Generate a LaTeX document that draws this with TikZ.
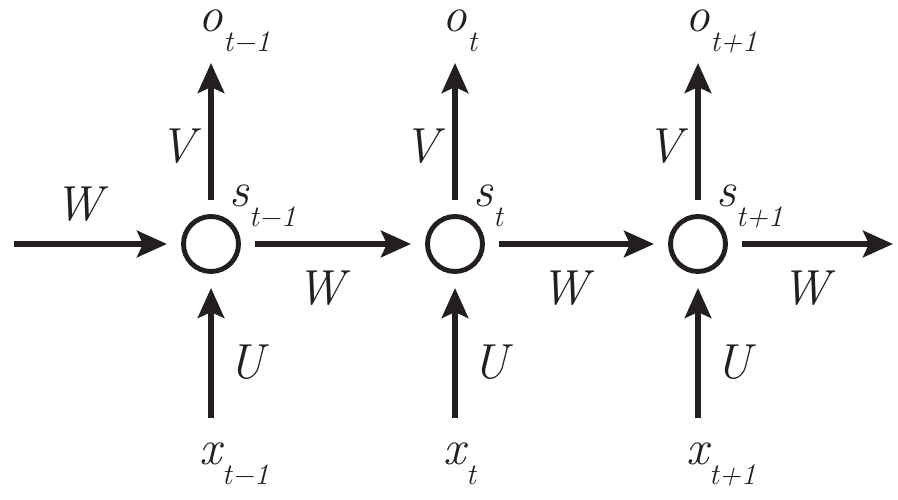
\documentclass[tikz,border=0pt]{standalone}
\usepackage{fontspec}
\usetikzlibrary{arrows.meta}
\definecolor{ink}{HTML}{231F20}
\newcommand{\sublbl}[2]{#1\rlap{\raisebox{-0.4cm}{\fontsize{17}{20}\selectfont #2}}}

\begin{document}
\begin{tikzpicture}[
  cell/.style={circle, draw=ink, line width=2.8pt, minimum size=1.1cm, inner sep=0pt, outer sep=0.33cm},
  link/.style={draw=ink, line width=3.1pt, -{Stealth[length=0.6cm, width=0.53cm, inset=0.12cm]}},
  wt/.style={font=\fontsize{28}{34}\selectfont\itshape, text=ink},
  var/.style={font=\fontsize{28}{34}\selectfont\itshape, text=ink, anchor=base, inner sep=0pt}
]
\useasboundingbox (0,0) rectangle (17.96,10);

\node[cell] (s1) at (4.22,5.12) {};
\node[cell] (s2) at (9.10,5.12) {};
\node[cell] (s3) at (13.96,5.12) {};

\coordinate (win) at (0.28,5.12);
\coordinate (wout) at (17.86,5.12);
\coordinate (oout1) at (4.22,8.74);
\coordinate (oout2) at (9.10,8.74);
\coordinate (oout3) at (13.96,8.74);
\coordinate (xin1) at (4.22,1.64);
\coordinate (xin2) at (9.10,1.64);
\coordinate (xin3) at (13.96,1.64);

\draw[link] (win) -- node[wt, pos=.42, above=0.27cm] {W} (s1);
\draw[link] (s1) -- node[wt, pos=.42, below=0.37cm] {W} (s2);
\draw[link] (s2) -- node[wt, pos=.42, below=0.37cm] {W} (s3);
\draw[link] (s3) -- node[wt, pos=.42, below=0.37cm] {W} (wout);

\draw[link] (s1) -- node[wt, pos=.39, left=0.15cm] {V} (oout1);
\draw[link] (s2) -- node[wt, pos=.39, left=0.15cm] {V} (oout2);
\draw[link] (s3) -- node[wt, pos=.39, left=0.15cm] {V} (oout3);

\draw[link] (xin1) -- node[wt, pos=.43, right=0.18cm] {U} (s1);
\draw[link] (xin2) -- node[wt, pos=.43, right=0.18cm] {U} (s2);
\draw[link] (xin3) -- node[wt, pos=.43, right=0.18cm] {U} (s3);

\node[var, anchor=base west] (ls1) at ([shift={(0.36,0.74)}]s1.center) {\sublbl{s}{t−1}};
\node[var, anchor=base west] (ls2) at ([shift={(0.36,0.74)}]s2.center) {\sublbl{s}{t}};
\node[var, anchor=base west] (ls3) at ([shift={(0.36,0.74)}]s3.center) {\sublbl{s}{t+1}};

\node[var] (o1) at ([yshift=0.62cm]oout1) {\sublbl{o}{t−1}};
\node[var] (o2) at ([yshift=0.62cm]oout2) {\sublbl{o}{t}};
\node[var] (o3) at ([yshift=0.62cm]oout3) {\sublbl{o}{t+1}};

\node[var] (x1) at ([yshift=-0.94cm]xin1) {\sublbl{x}{t−1}};
\node[var] (x2) at ([yshift=-0.94cm]xin2) {\sublbl{x}{t}};
\node[var] (x3) at ([yshift=-0.94cm]xin3) {\sublbl{x}{t+1}};
\end{tikzpicture}
\end{document}
